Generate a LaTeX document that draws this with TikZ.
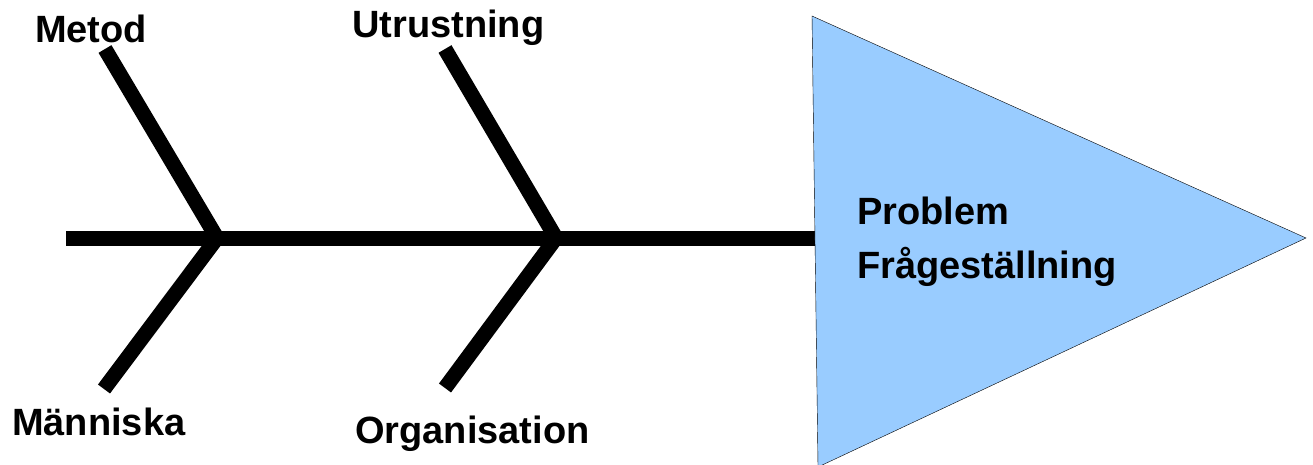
\documentclass[tikz,border=0pt]{standalone}
\usepackage{fontspec}
\setmainfont{Liberation Sans}
\definecolor{headblue}{HTML}{99CCFF}

\begin{document}
\begin{tikzpicture}[x=1pt, y=-1pt, every node/.style={inner sep=0, anchor=base west, font=\fontsize{38}{54}\selectfont\bfseries}, bone/.style={line width=15pt, line join=miter}]
\useasboundingbox (0,0) rectangle (1313,465);
\coordinate (tail) at (66,238); \coordinate (hmid) at (816,238);
\coordinate (ja) at (217,238); \coordinate (jb) at (556,238);
\coordinate (ta) at (105,49); \coordinate (ba) at (104,389);
\coordinate (tb) at (445,49); \coordinate (bb) at (445,388);
\coordinate (htop) at (812,16); \coordinate (htip) at (1306,238); \coordinate (hbot) at (818,467);
\draw[bone] (tail) -- (hmid);
\foreach \n in {a,b} \draw[bone] (t\n) -- (j\n) -- (b\n);
\filldraw[fill=headblue, draw=black, thin] (htop) -- (htip) -- (hbot) -- cycle;
\node (metod) at (35,43) {Metod};
\node (utrustning) at (352,38) {Utrustning};
\node (manniska) at (12,435) {Människa};
\node (organisation) at (355,443) {Organisation};
\node (problem) at (857,224) {Problem};
\node (fraga) at (857,278) {Frågeställning};
\end{tikzpicture}
\end{document}
